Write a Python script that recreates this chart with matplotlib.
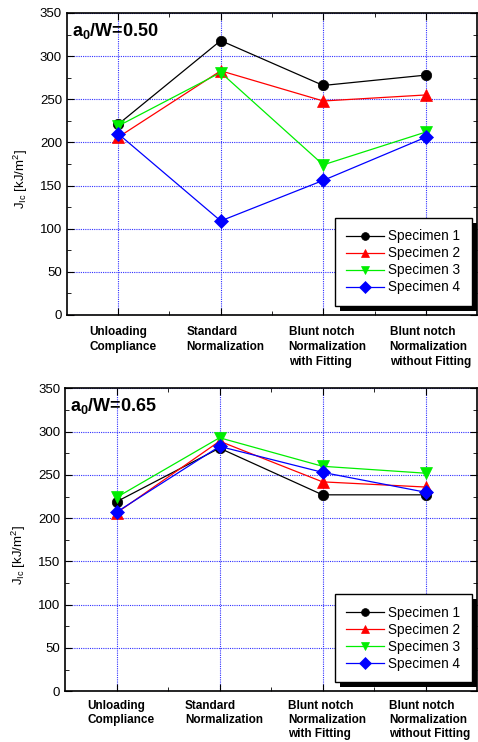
import numpy as np
import matplotlib
matplotlib.use("Agg")
import matplotlib.pyplot as plt
from matplotlib.ticker import MultipleLocator, FixedLocator
from matplotlib.patches import Rectangle
from matplotlib.transforms import IdentityTransform, ScaledTranslation

plt.rcParams['font.family'] = ['Liberation Sans', 'DejaVu Sans']
plt.rcParams['mathtext.fontset'] = 'custom'
plt.rcParams['mathtext.rm'] = 'Liberation Sans'
plt.rcParams['mathtext.it'] = 'Liberation Sans'
plt.rcParams['mathtext.bf'] = 'Liberation Sans:bold'

# data
categories = ["Unloading\nCompliance", "Standard\nNormalization",
              "Blunt notch\nNormalization\nwith Fitting",
              "Blunt notch\nNormalization\nwithout Fitting"]
series_names = ["Specimen 1", "Specimen 2", "Specimen 3", "Specimen 4"]

top_s1 = [221, 318, 266, 278]
top_s2 = [206, 283, 248, 255]
top_s3 = [219, 281, 174, 212]
top_s4 = [210, 109, 156, 206]

bot_s1 = [219, 281, 227, 227]
bot_s2 = [206, 289, 242, 236]
bot_s3 = [224, 293, 260, 252]
bot_s4 = [207, 283, 253, 230]

colors = ['black', '#ff0000', '#00ee00', '#0000ff']
markers = ['o', '^', 'v', 'D']
msizes = [7.5, 8, 8, 7.5]

fig = plt.figure(figsize=(4.78, 7.42), dpi=100)
ax1 = fig.add_axes([0.140, 0.5755, 0.858, 0.407])
ax2 = fig.add_axes([0.136, 0.0685, 0.862, 0.408])

x = np.arange(1, 5)


def style_panel(ax, data, title, pad, lsp):
    for vals, name, c, m, ms in zip(data, series_names, colors, markers, msizes):
        ax.plot(x, vals, color=c, marker=m, markersize=ms, markeredgewidth=0.5,
                linewidth=0.9, label=name, zorder=3)
    ax.set_xlim(0.5, 4.5)
    ax.set_ylim(0, 350)
    ax.yaxis.set_major_locator(MultipleLocator(50))
    ax.yaxis.set_minor_locator(MultipleLocator(25))
    ax.xaxis.set_major_locator(FixedLocator(x))
    ax.xaxis.set_minor_locator(FixedLocator([1.5, 2.5, 3.5]))
    ax.set_xticklabels(categories, fontweight='bold', fontsize=8.5,
                       multialignment='left', va='top', linespacing=lsp)
    ax.tick_params(axis='both', which='both', direction='in',
                   top=True, right=True, labelsize=9.5)
    ax.tick_params(axis='x', which='major', pad=pad, length=5, labelsize=8.5)
    ax.tick_params(axis='y', which='major', length=5)
    ax.tick_params(which='minor', length=3)
    # category labels sit a little right of their ticks in the original
    shift = ScaledTranslation(4.5 / 100, 0, fig.dpi_scale_trans)
    for lab in ax.get_xticklabels():
        lab.set_transform(lab.get_transform() + shift)
    ax.grid(True, which='major', color='#3030ff', linestyle=(0, (1, 1)),
            linewidth=0.8)
    for sp in ax.spines.values():
        sp.set_linewidth(1.2)
    ax.set_ylabel(r'J$_{Ic}$ [kJ/m$^2$]', fontsize=9.5)
    ax.yaxis.set_label_coords(-0.09, 0.45)
    ax.text(0.012, 0.975, title, transform=ax.transAxes, fontsize=13,
            fontweight='bold', va='top', ha='left')
    leg = ax.legend(loc='lower right', bbox_to_anchor=(0.988, 0.03),
                    fontsize=9.8, frameon=True, fancybox=False, framealpha=1,
                    handlelength=2.8, labelspacing=0.22, markerscale=0.75,
                    borderpad=0.85, handletextpad=0.3, borderaxespad=0)
    leg.get_frame().set_edgecolor('black')
    leg.get_frame().set_linewidth(1.0)
    return leg


leg1 = style_panel(ax1, [top_s1, top_s2, top_s3, top_s4],
                   r'a$_\mathbf{0}$/W=0.50', 8, 1.35)
leg2 = style_panel(ax2, [bot_s1, bot_s2, bot_s3, bot_s4],
                   r'a$_\mathbf{0}$/W=0.65', 6, 1.25)

# solid black drop shadow behind each legend box
fig.canvas.draw()
for ax, leg in [(ax1, leg1), (ax2, leg2)]:
    bb = leg.get_window_extent()
    ax.add_patch(Rectangle((bb.x0 + 5, bb.y0 - 5), bb.width, bb.height,
                           transform=IdentityTransform(), facecolor='black',
                           edgecolor='none', zorder=4.9, clip_on=False))

fig.savefig('out.png', dpi=100)
